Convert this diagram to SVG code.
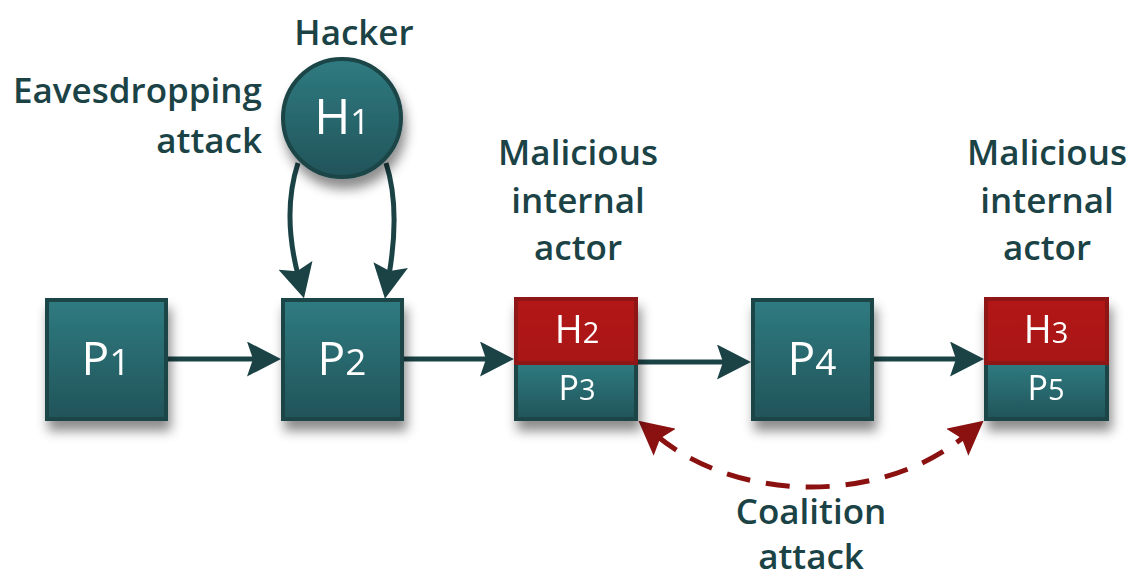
<svg xmlns="http://www.w3.org/2000/svg" width="1131" height="578" viewBox="0 0 1131 578">
  <defs>
    <linearGradient id="teal" x1="0" y1="0" x2="0" y2="1">
      <stop offset="0" stop-color="#2F7B81"/>
      <stop offset="1" stop-color="#215459"/>
    </linearGradient>
    <linearGradient id="red" x1="0" y1="0" x2="0" y2="1">
      <stop offset="0" stop-color="#B31717"/>
      <stop offset="1" stop-color="#A81414"/>
    </linearGradient>
    <filter id="shadow" x="-30%" y="-30%" width="160%" height="170%">
      <feDropShadow dx="3" dy="10" stdDeviation="6" flood-color="#000" flood-opacity="0.45"/>
    </filter>
    <marker id="arrow" viewBox="0 0 34 35" markerWidth="34" markerHeight="35" refX="10" refY="17.5" orient="auto" markerUnits="userSpaceOnUse">
      <path d="M0,0 L34,17.5 L0,35 L6,17.5 Z" fill="#1B4346"/>
    </marker>
    <marker id="arrowRed" viewBox="0 0 34 35" markerWidth="34" markerHeight="35" refX="10" refY="17.5" orient="auto-start-reverse" markerUnits="userSpaceOnUse">
      <path d="M0,0 L34,17.5 L0,35 L6,17.5 Z" fill="#8B1111"/>
    </marker>
  </defs>
  <style>
    .box { fill: url(#teal); stroke: #1A4447; stroke-width: 4; }
    .hbox { fill: url(#red); stroke: #8E1212; stroke-width: 4; }
    .lbl { font-family: "Open Sans", "Liberation Sans", sans-serif; fill: #FFFFFF; text-anchor: middle; }
    .cap { font-family: "Open Sans", "Liberation Sans", sans-serif; font-size: 35px; font-weight: 600; fill: #1B4346; }
    .edge { fill: none; stroke: #1B4346; stroke-width: 5; }
    .coal { fill: none; stroke: #8B1111; stroke-width: 5; stroke-dasharray: 24 16; }
  </style>

  <rect width="1131" height="578" fill="#FFFFFF"/>

  <!-- captions -->
  <g id="captions">
    <text class="cap" x="354" y="45" text-anchor="middle">Hacker</text>
    <text class="cap" x="262" y="103" text-anchor="end">Eavesdropping</text>
    <text class="cap" x="262" y="153" text-anchor="end">attack</text>
    <text class="cap" x="578" y="165" text-anchor="middle">Malicious</text>
    <text class="cap" x="578" y="213" text-anchor="middle">internal</text>
    <text class="cap" x="578" y="260" text-anchor="middle">actor</text>
    <text class="cap" x="1047" y="165" text-anchor="middle">Malicious</text>
    <text class="cap" x="1047" y="213" text-anchor="middle">internal</text>
    <text class="cap" x="1047" y="260" text-anchor="middle">actor</text>
    <text class="cap" x="811" y="524" text-anchor="middle">Coalition</text>
    <text class="cap" x="811" y="569" text-anchor="middle">attack</text>
  </g>

  <!-- connectors -->
  <g id="connectors">
    <path class="edge" d="M168,359 H257" marker-end="url(#arrow)"/>
    <path class="edge" d="M404,359 H490" marker-end="url(#arrow)"/>
    <path class="edge" d="M638,362 H727" marker-end="url(#arrow)"/>
    <path class="edge" d="M874,359 H960" marker-end="url(#arrow)"/>
    <path class="edge" d="M298,163 C286,200 289,240 298,275" marker-end="url(#arrow)"/>
    <path class="edge" d="M386,163 C398,200 395,240 389,275" marker-end="url(#arrow)"/>
    <path class="coal" d="M657,436 C740,504 882,504 965,436" marker-start="url(#arrowRed)" marker-end="url(#arrowRed)"/>
  </g>

  <!-- hacker -->
  <g id="H1" filter="url(#shadow)">
    <circle cx="342" cy="118" r="59" class="box"/>
    <text class="lbl" x="342" y="134" font-size="49">H<tspan font-size="34">1</tspan></text>
  </g>

  <!-- participants -->
  <g id="P1" filter="url(#shadow)">
    <rect class="box" x="47" y="300" width="119" height="119"/>
    <text class="lbl" x="106" y="375" font-size="46">P<tspan font-size="37">1</tspan></text>
  </g>
  <g id="P2" filter="url(#shadow)">
    <rect class="box" x="283" y="300" width="119" height="119"/>
    <text class="lbl" x="342" y="375" font-size="46">P<tspan font-size="37">2</tspan></text>
  </g>
  <g id="P3" filter="url(#shadow)">
    <rect class="box" x="516" y="363" width="120" height="56"/>
    <rect class="hbox" x="516" y="299" width="120" height="64"/>
    <text class="lbl" x="577" y="343" font-size="38">H<tspan font-size="29">2</tspan></text>
    <text class="lbl" x="577" y="400" font-size="34">P<tspan font-size="29">3</tspan></text>
  </g>
  <g id="P4" filter="url(#shadow)">
    <rect class="box" x="753" y="300" width="119" height="119"/>
    <text class="lbl" x="812" y="375" font-size="46">P<tspan font-size="37">4</tspan></text>
  </g>
  <g id="P5" filter="url(#shadow)">
    <rect class="box" x="986" y="363" width="121" height="56"/>
    <rect class="hbox" x="986" y="299" width="121" height="64"/>
    <text class="lbl" x="1046" y="343" font-size="38">H<tspan font-size="29">3</tspan></text>
    <text class="lbl" x="1046" y="400" font-size="34">P<tspan font-size="29">5</tspan></text>
  </g>
</svg>
